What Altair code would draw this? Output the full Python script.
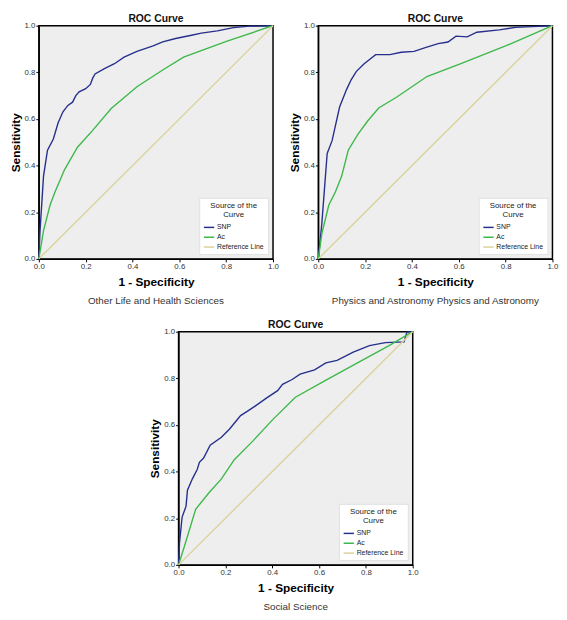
import altair as alt
import pandas as pd

# ---------------- data ----------------
series_names = ["SNP", "Ac", "Reference Line"]
series_colors = ["#26308c", "#3db84a", "#d9d29a"]
tick_values = [0.0, 0.2, 0.4, 0.6, 0.8, 1.0]
panel_heading = "ROC Curve"

p1_title = "Other Life and Health Sciences"
p1_snp_x = [0, 0.005, 0.02, 0.037, 0.062, 0.082, 0.103, 0.124, 0.144, 0.158, 0.172, 0.2, 0.22, 0.23, 0.24,
            0.282, 0.323, 0.364, 0.419, 0.488, 0.529, 0.584, 0.652, 0.694, 0.762, 0.831, 0.9, 1.0]
p1_snp_y = [0, 0.12, 0.355, 0.466, 0.514, 0.583, 0.631, 0.658, 0.672, 0.700, 0.716, 0.73, 0.748, 0.775, 0.793,
            0.817, 0.837, 0.865, 0.89, 0.913, 0.931, 0.945, 0.959, 0.968, 0.978, 0.992, 0.998, 1.0]
p1_ac_x = [0, 0.02, 0.048, 0.069, 0.11, 0.165, 0.227, 0.309, 0.419, 0.529, 0.618, 0.804, 1.0]
p1_ac_y = [0, 0.121, 0.231, 0.287, 0.383, 0.479, 0.548, 0.645, 0.738, 0.81, 0.865, 0.934, 1.0]

p2_title = "Physics and Astronomy Physics and Astronomy"
p2_snp_x = [0, 0.015, 0.038, 0.059, 0.091, 0.121, 0.141, 0.162, 0.196, 0.245, 0.306, 0.354, 0.409, 0.457,
            0.512, 0.554, 0.588, 0.636, 0.677, 0.773, 0.842, 0.911, 1.0]
p2_snp_y = [0, 0.149, 0.452, 0.507, 0.651, 0.727, 0.769, 0.803, 0.837, 0.876, 0.876, 0.886, 0.89, 0.906,
            0.923, 0.93, 0.955, 0.952, 0.972, 0.982, 0.993, 0.996, 1.0]
p2_ac_x = [0, 0.015, 0.045, 0.073, 0.1, 0.128, 0.169, 0.21, 0.258, 0.334, 0.464, 0.609, 0.8, 1.0]
p2_ac_y = [0, 0.107, 0.231, 0.287, 0.355, 0.466, 0.534, 0.59, 0.647, 0.693, 0.782, 0.837, 0.913, 1.0]

p3_title = "Social Science"
p3_snp_x = [0, 0.004, 0.015, 0.032, 0.038, 0.059, 0.08, 0.089, 0.107, 0.135, 0.183, 0.217, 0.245, 0.265,
            0.293, 0.327, 0.375, 0.423, 0.444, 0.485, 0.519, 0.581, 0.629, 0.677, 0.746, 0.815, 0.883,
            0.963, 0.975, 1.0]
p3_snp_y = [0, 0.094, 0.204, 0.252, 0.32, 0.369, 0.41, 0.44, 0.458, 0.513, 0.547, 0.582, 0.616, 0.64,
            0.658, 0.681, 0.715, 0.747, 0.774, 0.795, 0.818, 0.836, 0.866, 0.877, 0.912, 0.94, 0.953,
            0.956, 0.998, 1.0]
p3_ac_x = [0, 0.025, 0.073, 0.128, 0.183, 0.238, 0.32, 0.402, 0.499, 0.622, 0.76, 0.897, 1.0]
p3_ac_y = [0, 0.08, 0.238, 0.307, 0.369, 0.451, 0.534, 0.623, 0.719, 0.788, 0.864, 0.939, 1.0]

ref_x = [0.0, 1.0]
ref_y = [0.0, 1.0]

FONT = "Liberation Sans"
W = 238
H = 237


def frame(snp_x, snp_y, ac_x, ac_y):
    rows = []
    for name, xs, ys in [("SNP", snp_x, snp_y), ("Ac", ac_x, ac_y), ("Reference Line", ref_x, ref_y)]:
        for i, (a, b) in enumerate(zip(xs, ys)):
            rows.append({"series": name, "x": a, "y": b, "i": i})
    return pd.DataFrame(rows)


def panel(snp_x, snp_y, ac_x, ac_y, subtitle):
    df = frame(snp_x, snp_y, ac_x, ac_y)
    lines = alt.Chart(df).mark_line(strokeWidth=1.4).encode(
        x=alt.X("x:Q", scale=alt.Scale(domain=[0, 1], nice=False),
                axis=alt.Axis(values=tick_values, format=".1f", title="1 - Specificity")),
        y=alt.Y("y:Q", scale=alt.Scale(domain=[0, 1], nice=False),
                axis=alt.Axis(values=tick_values, format=".1f", title="Sensitivity")),
        color=alt.Color("series:N", sort=series_names,
                        scale=alt.Scale(domain=series_names, range=series_colors),
                        legend=alt.Legend(title=["Source of the", "Curve"], orient="bottom-right",
                                          offset=5)),
        order=alt.Order("i:Q"),
        detail="series:N",
    )
    heading = alt.Chart(pd.DataFrame({"t": [panel_heading]})).mark_text(
        font=FONT, fontSize=10.5, fontWeight="bold", color="#111111", baseline="middle", align="center"
    ).encode(text="t:N", x=alt.value(W / 2), y=alt.value(-7))
    sub = alt.Chart(pd.DataFrame({"t": [subtitle]})).mark_text(
        font=FONT, fontSize=10, color="#333333", baseline="middle", align="center"
    ).encode(text="t:N", x=alt.value(W / 2), y=alt.value(H + 43))
    return alt.layer(lines, heading, sub).properties(width=W, height=H)


p1 = panel(p1_snp_x, p1_snp_y, p1_ac_x, p1_ac_y, p1_title)
p2 = panel(p2_snp_x, p2_snp_y, p2_ac_x, p2_ac_y, p2_title)
p3 = panel(p3_snp_x, p3_snp_y, p3_ac_x, p3_ac_y, p3_title)

top = alt.hconcat(p1, p2, spacing=8).resolve_scale(color="independent")
chart = alt.vconcat(top, p3, spacing=12, center=True).resolve_scale(color="independent").properties(
    padding=0
).configure(font=FONT).configure_view(
    fill="#eeeeee", stroke="#000000", strokeWidth=1.5
).configure_axis(
    grid=False, domainColor="#000000", domainWidth=1.2, tickColor="#000000", tickSize=3,
    labelFont=FONT, labelFontSize=8, labelColor="#333333", labelFlush=False, labelPadding=1,
    titleFont=FONT, titleFontSize=12, titleFontWeight="bold", titleColor="#000000",
).configure_axisX(titlePadding=6).configure_axisY(titlePadding=2).configure_legend(
    fillColor="#ffffff", strokeColor="#e0e0e0", padding=4, cornerRadius=0,
    titleFont=FONT, titleFontSize=8, titleFontWeight="normal", titleColor="#222222",
    titleAnchor="middle", titleAlign="center", titleLineHeight=9, titlePadding=3,
    labelFont=FONT, labelFontSize=7, labelColor="#222222", labelOffset=2,
    symbolType="stroke", symbolSize=110, symbolStrokeWidth=1.5, rowPadding=1,
)

chart.save("out.html", embed_options={"renderer": "svg", "actions": False})
